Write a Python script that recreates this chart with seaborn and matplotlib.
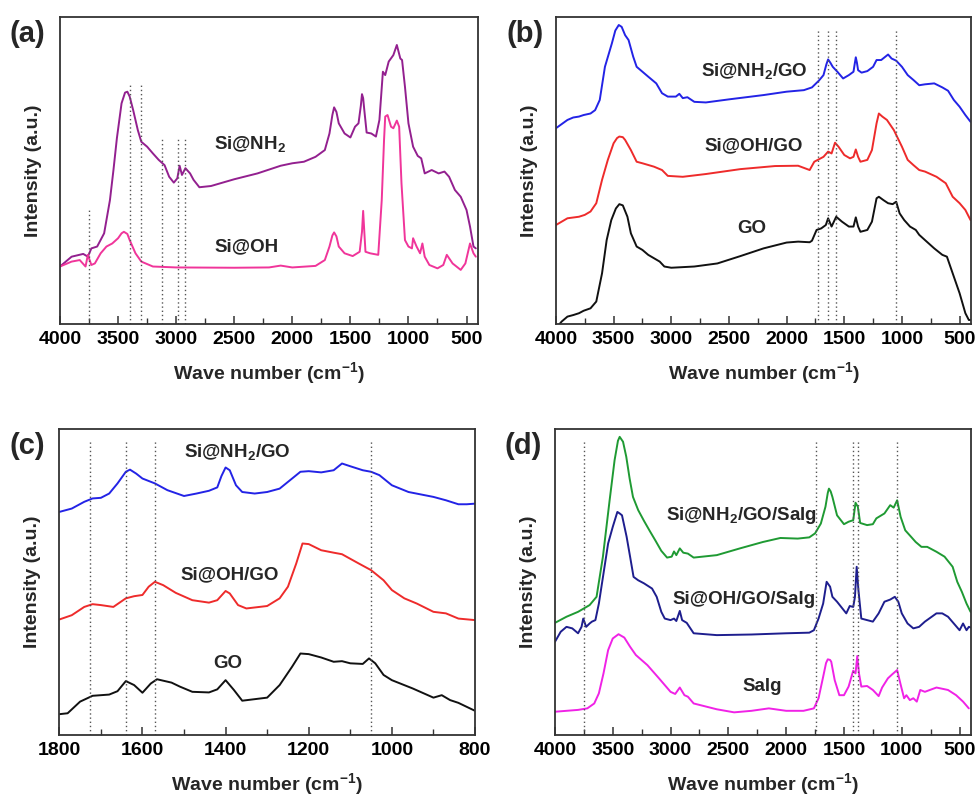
import pandas as pd
import matplotlib
matplotlib.use("Agg")
import matplotlib.pyplot as plt
import seaborn as sns
from matplotlib.ticker import MultipleLocator

# ---- panel (a) ----
A_NH2_WN = [4000, 3900, 3800, 3760, 3730, 3680, 3620, 3570, 3540, 3510, 3470, 3440, 3420, 3400,
            3370, 3330, 3300, 3250, 3200, 3150, 3100, 3060, 3020, 2990, 2970, 2950, 2920, 2880,
            2850, 2800, 2700, 2500, 2300, 2100, 2000, 1900, 1800, 1720, 1680, 1655, 1640, 1620,
            1600, 1550, 1500, 1460, 1430, 1410, 1400, 1390, 1380, 1360, 1320, 1280, 1250, 1220,
            1200, 1170, 1130, 1100, 1070, 1055, 1030, 1000, 960, 920, 890, 860, 800, 740, 690,
            650, 600, 550, 500, 470, 440, 420]
A_NH2_I = [18.7, 21.9, 22.8, 21.9, 24.6, 25.2, 29.5, 40.3, 50.0, 60.5, 71.8, 75.3, 75.6, 74.0,
           69.6, 63.1, 59.3, 57.7, 55.5, 53.4, 51.7, 47.9, 46.0, 47.4, 51.5, 48.5, 50.7, 49.0,
           46.9, 44.5, 44.9, 47.1, 49.0, 51.5, 52.3, 52.8, 54.4, 56.6, 62.0, 68.0, 70.5, 69.0,
           65.3, 62.0, 60.7, 64.2, 65.3, 71.0, 74.8, 73.5, 69.6, 62.3, 62.0, 61.0, 66.4, 82.1,
           81.0, 85.4, 87.5, 90.8, 86.4, 85.9, 77.2, 65.3, 57.7, 54.7, 53.9, 49.0, 50.1, 49.0,
           49.6, 47.9, 43.6, 41.4, 37.1, 31.7, 25.2, 24.6]

A_OH_WN = [4000, 3900, 3830, 3780, 3760, 3730, 3700, 3650, 3600, 3550, 3500, 3470, 3450, 3420,
           3400, 3350, 3300, 3200, 3000, 2500, 2200, 2100, 2000, 1800, 1720, 1680, 1655, 1640,
           1620, 1600, 1550, 1480, 1420, 1400, 1390, 1380, 1370, 1330, 1260, 1230, 1210, 1200,
           1180, 1150, 1130, 1100, 1080, 1060, 1030, 1000, 970, 960, 930, 900, 880, 860, 820,
           750, 700, 670, 620, 550, 510, 470, 440, 420]
A_OH_I = [18.7, 20.3, 20.8, 18.7, 22.5, 19.2, 19.7, 23.0, 25.2, 26.2, 27.9, 29.5, 30.0, 29.3,
          27.3, 23.0, 20.3, 18.7, 18.4, 18.3, 18.4, 19.0, 18.4, 18.9, 20.8, 25.2, 28.8, 29.8,
          28.5, 25.2, 23.0, 22.1, 23.5, 30.0, 36.8, 30.0, 23.5, 23.0, 22.5, 40.3, 60.0, 67.5,
          68.0, 64.2, 63.7, 66.2, 64.2, 45.8, 27.3, 25.2, 24.6, 27.9, 25.2, 23.0, 26.2, 21.9,
          19.2, 18.1, 19.2, 22.5, 19.7, 17.6, 19.7, 26.2, 23.0, 21.9]

A_MARK_WN = [3750, 3400, 3300, 3120, 2980, 2925]
A_MARK_TOP = [37.5, 78.0, 78.0, 60.4, 61.0, 61.0]

# ---- panel (b) ----
B_NH2_WN = [4000, 3900, 3850, 3800, 3760, 3700, 3660, 3620, 3575, 3515, 3485, 3455, 3430, 3400,
            3370, 3330, 3300, 3250, 3200, 3130, 3080, 3030, 2960, 2930, 2900, 2860, 2800, 2700,
            2500, 2200, 2000, 1850, 1780, 1720, 1680, 1655, 1640, 1620, 1600, 1560, 1510, 1460,
            1420, 1410, 1400, 1390, 1380, 1350, 1300, 1250, 1220, 1180, 1150, 1120, 1090, 1050,
            1000, 950, 900, 850, 800, 720, 650, 600, 550, 500, 450, 405]
B_NH2_I = [63.7, 66.4, 67.2, 67.5, 68.0, 68.5, 69.6, 72.9, 83.7, 91.3, 95.5, 97.3, 96.7, 94.0,
           92.4, 87.0, 83.7, 82.1, 80.5, 78.3, 75.1, 74.0, 74.0, 74.9, 73.5, 73.8, 72.3, 72.1,
           73.1, 74.5, 75.6, 76.1, 77.0, 79.2, 81.0, 84.5, 86.1, 85.0, 83.7, 82.1, 79.9, 81.0,
           82.1, 84.5, 86.8, 85.0, 82.6, 81.8, 82.3, 83.7, 85.9, 85.9, 86.8, 87.7, 86.4, 85.7,
           83.7, 81.0, 79.4, 77.7, 78.0, 78.3, 77.0, 75.9, 72.9, 70.7, 68.0, 65.8]

B_OH_WN = [4000, 3900, 3800, 3750, 3700, 3650, 3600, 3550, 3500, 3470, 3450, 3420, 3400, 3350,
           3300, 3250, 3150, 3080, 3030, 2900, 2700, 2400, 2100, 1900, 1800, 1760, 1720, 1680,
           1640, 1610, 1580, 1550, 1500, 1450, 1420, 1400, 1380, 1360, 1300, 1260, 1220, 1200,
           1170, 1130, 1070, 1000, 950, 900, 850, 800, 700, 620, 560, 500, 450, 405]
B_OH_I = [32.2, 34.4, 34.9, 35.5, 36.6, 39.3, 46.9, 53.4, 58.8, 60.5, 61.0, 60.8, 59.9, 56.6,
          52.8, 52.3, 51.2, 50.1, 48.2, 47.9, 48.8, 50.4, 51.4, 51.5, 50.1, 52.8, 53.6, 54.4,
          56.1, 55.5, 59.0, 57.7, 55.0, 53.9, 54.4, 56.8, 54.4, 52.8, 53.4, 56.6, 65.3, 68.5,
          67.5, 66.4, 63.1, 57.7, 53.4, 51.7, 50.1, 49.6, 47.9, 45.8, 41.4, 39.3, 37.1, 33.8]

B_GO_WN = [3990, 3950, 3900, 3850, 3800, 3760, 3700, 3650, 3600, 3560, 3520, 3480, 3450, 3420,
           3380, 3350, 3300, 3250, 3200, 3150, 3100, 3060, 3000, 2800, 2600, 2400, 2200, 2000,
           1900, 1800, 1780, 1740, 1700, 1660, 1640, 1610, 1570, 1520, 1460, 1420, 1400, 1380,
           1360, 1300, 1260, 1220, 1200, 1160, 1120, 1080, 1050, 1020, 980, 930, 880, 850, 800,
           720, 650, 610, 550, 500, 450, 420, 405]
B_GO_I = [-1.0, 0.8, 2.4, 2.9, 3.5, 4.3, 5.1, 7.3, 16.5, 27.3, 33.8, 37.6, 39.0, 38.6,
          34.9, 29.5, 25.2, 24.1, 22.5, 21.4, 20.3, 18.7, 18.3, 18.7, 19.7, 22.1, 24.6, 26.5,
          26.8, 26.6, 27.1, 30.6, 31.1, 32.2, 34.4, 31.7, 34.9, 33.3, 31.7, 31.7, 34.7, 31.7,
          30.0, 30.6, 33.3, 40.9, 41.4, 40.3, 39.3, 39.0, 39.8, 36.0, 33.8, 31.7, 30.6, 29.0,
          27.3, 24.6, 22.5, 21.9, 15.4, 10.0, 3.5, 1.3, 1.3]

B_MARK_WN = [1725, 1640, 1570, 1055]
B_MARK_TOP = [96.0, 96.0, 96.0, 96.0]

# ---- panel (c) ----
C_NH2_WN = [1800, 1770, 1740, 1720, 1700, 1680, 1660, 1640, 1630, 1615, 1600, 1570, 1540, 1500,
            1470, 1440, 1420, 1410, 1400, 1390, 1375, 1360, 1330, 1300, 1270, 1240, 1220, 1200,
            1170, 1140, 1120, 1100, 1070, 1050, 1030, 1000, 960, 900, 870, 840, 820, 800]
C_NH2_I = [72.8, 73.9, 76.1, 77.2, 77.4, 78.8, 82.1, 85.9, 86.6, 85.3, 83.7, 82.1, 79.9, 78.0,
           78.8, 79.7, 80.8, 84.5, 87.3, 86.4, 81.5, 79.3, 78.8, 79.3, 80.4, 83.7, 85.9, 86.1,
           85.7, 86.4, 88.6, 87.7, 86.4, 85.9, 84.8, 81.5, 79.3, 77.7, 76.6, 75.3, 75.3, 75.5]

C_OH_WN = [1800, 1770, 1740, 1720, 1700, 1670, 1640, 1620, 1600, 1585, 1570, 1550, 1520, 1480,
           1440, 1420, 1400, 1390, 1370, 1350, 1300, 1270, 1250, 1230, 1215, 1200, 1170, 1140,
           1120, 1080, 1050, 1020, 1000, 970, 940, 900, 870, 840, 800]
C_OH_I = [37.7, 39.1, 41.8, 42.7, 42.4, 41.8, 44.6, 45.3, 45.7, 48.4, 50.0, 48.9, 46.4, 44.0,
          43.2, 44.0, 47.0, 46.2, 42.4, 41.3, 42.1, 44.6, 48.4, 56.0, 62.5, 62.3, 60.3, 59.5,
          59.0, 56.0, 53.8, 50.5, 47.3, 44.6, 42.9, 40.2, 39.7, 38.0, 37.5]

C_GO_WN = [1800, 1780, 1750, 1720, 1680, 1660, 1640, 1620, 1600, 1580, 1565, 1530, 1510, 1480,
           1440, 1420, 1400, 1380, 1360, 1300, 1270, 1240, 1220, 1200, 1170, 1140, 1120, 1100,
           1070, 1055, 1040, 1020, 1000, 950, 900, 880, 860, 840, 820, 800]
C_GO_I = [6.8, 7.1, 10.9, 12.8, 13.2, 14.3, 17.6, 16.3, 13.8, 16.8, 18.2, 17.1, 15.8, 14.1,
          13.9, 14.9, 17.9, 14.7, 11.2, 12.2, 16.3, 22.3, 26.6, 26.4, 25.3, 23.9, 24.1, 23.4,
          23.2, 25.0, 23.4, 19.6, 17.9, 15.2, 12.2, 13.0, 11.4, 10.5, 9.2, 7.9]

C_MARK_WN = [1725, 1640, 1570, 1051]
C_MARK_TOP = [96.0, 96.0, 96.0, 96.0]

# ---- panel (d) ----
D_NH2_WN = [4000, 3900, 3800, 3750, 3700, 3640, 3585, 3527, 3484, 3455, 3440, 3411, 3383, 3354,
            3325, 3280, 3230, 3180, 3130, 3080, 3030, 2990, 2970, 2950, 2920, 2890, 2850, 2800,
            2600, 2400, 2200, 2050, 1900, 1800, 1750, 1700, 1660, 1640, 1630, 1615, 1600, 1560,
            1500, 1460, 1420, 1400, 1380, 1360, 1300, 1250, 1220, 1150, 1100, 1070, 1040, 1010,
            970, 920, 880, 830, 780, 700, 630, 560, 520, 480, 440, 405]
D_NH2_I = [36.6, 38.6, 40.2, 41.3, 42.4, 45.1, 58.2, 76.6, 89.7, 96.0, 97.3, 95.7, 90.8, 83.7,
           77.7, 73.4, 69.9, 66.6, 63.4, 60.1, 57.9, 58.2, 59.9, 58.7, 60.9, 59.5, 59.2, 57.9,
           58.7, 60.9, 63.0, 64.3, 64.1, 64.5, 65.8, 69.0, 74.5, 79.0, 80.4, 79.5, 77.7, 71.7,
           68.8, 69.6, 70.1, 75.8, 74.5, 69.2, 68.5, 68.8, 70.7, 72.3, 75.0, 74.2, 76.6, 71.2,
           66.8, 64.7, 63.0, 61.4, 61.4, 59.8, 58.2, 54.9, 50.0, 46.7, 42.9, 40.2]

D_OH_WN = [4000, 3950, 3900, 3850, 3800, 3770, 3755, 3730, 3700, 3680, 3650, 3620, 3580, 3540,
           3500, 3460, 3440, 3420, 3380, 3350, 3320, 3280, 3230, 3160, 3120, 3080, 3050, 3000,
           2970, 2950, 2920, 2900, 2860, 2800, 2600, 2300, 2000, 1800, 1760, 1720, 1680, 1650,
           1620, 1600, 1560, 1520, 1480, 1450, 1420, 1405, 1390, 1375, 1350, 1300, 1250, 1200,
           1150, 1100, 1060, 1030, 1000, 950, 900, 850, 800, 700, 650, 600, 550, 500, 470, 440,
           420, 405]
D_OH_I = [30.4, 33.7, 35.3, 34.8, 33.2, 35.3, 38.0, 35.3, 36.4, 37.0, 37.5, 42.9, 52.7, 62.5,
          67.9, 72.8, 72.3, 71.7, 64.7, 58.2, 51.6, 50.5, 49.5, 47.8, 45.1, 40.2, 38.0, 37.5,
          38.0, 37.2, 40.5, 37.5, 36.6, 33.2, 32.6, 32.8, 33.2, 33.4, 34.2, 38.0, 42.9, 50.0,
          48.4, 45.1, 43.5, 41.6, 39.7, 42.1, 41.8, 45.1, 54.9, 47.3, 38.0, 37.5, 37.0, 39.7,
          43.5, 44.2, 45.1, 43.5, 39.7, 36.4, 34.8, 35.3, 37.0, 39.7, 39.7, 38.6, 36.4, 34.2,
          36.4, 34.2, 35.3, 35.1]

D_SALG_WN = [4000, 3800, 3720, 3660, 3620, 3580, 3540, 3500, 3450, 3400, 3350, 3300, 3200, 3100,
             3000, 2960, 2920, 2880, 2850, 2800, 2600, 2450, 2300, 2150, 2000, 1850, 1760, 1720,
             1680, 1655, 1640, 1620, 1610, 1580, 1540, 1500, 1460, 1420, 1400, 1385, 1370, 1350,
             1300, 1250, 1200, 1170, 1120, 1080, 1040, 1010, 980, 960, 930, 900, 870, 840, 800,
             700, 600, 530, 470, 420]
D_SALG_I = [7.6, 8.2, 8.7, 10.3, 13.6, 20.1, 27.7, 31.5, 32.9, 31.8, 28.8, 26.1, 22.8, 18.5,
            14.1, 13.4, 15.5, 13.0, 12.5, 10.3, 8.4, 7.4, 7.9, 8.7, 7.9, 7.9, 8.7, 12.0,
            19.0, 23.5, 24.7, 24.5, 23.9, 17.9, 13.0, 13.0, 15.8, 21.0, 20.1, 25.8, 20.1, 15.8,
            16.0, 14.7, 12.7, 15.5, 18.5, 19.9, 21.2, 16.5, 12.0, 13.0, 11.4, 12.0, 10.9, 14.7,
            14.1, 15.5, 14.7, 13.0, 10.9, 8.7]

D_MARK_WN = [3746, 1738, 1421, 1380, 1040]
D_MARK_TOP = [96.0, 96.0, 96.0, 96.0, 96.0]

BOLD = "Liberation Sans"

sns.set_style("ticks")
plt.rcParams["font.family"] = [BOLD, "DejaVu Sans"]
plt.rcParams["font.weight"] = "bold"
plt.rcParams["mathtext.fontset"] = "custom"
plt.rcParams["mathtext.rm"] = "Liberation Sans:bold"
plt.rcParams["mathtext.bf"] = "Liberation Sans:bold"
plt.rcParams["mathtext.it"] = "Liberation Sans:bold"


def draw_curve(ax, wn, inten, color):
    df = pd.DataFrame({"wn": wn, "inten": inten})
    sns.lineplot(data=df, x="wn", y="inten", ax=ax, color=color, lw=1.4,
                 estimator=None, sort=False)


def style_axes(ax, xmax, xmin, major, minor, marks, mark_tops, panel):
    ax.set_xlim(xmax, xmin)
    ax.set_ylim(0, 100)
    ax.xaxis.set_major_locator(MultipleLocator(major))
    ax.xaxis.set_minor_locator(MultipleLocator(minor))
    ax.tick_params(axis="x", which="major", direction="in", length=6, width=1.1,
                   labelsize=14, pad=5, colors="#333333", labelcolor="black")
    ax.tick_params(axis="x", which="minor", direction="in", length=4, width=1.0,
                   colors="#333333")
    ax.set_yticks([])
    for lab in ax.get_xticklabels():
        lab.set_fontweight("bold")
    for sp in ax.spines.values():
        sp.set_visible(True)
        sp.set_color("#333333")
        sp.set_linewidth(1.3)
    ax.vlines(marks, 0, mark_tops, colors="#555555", linestyles=(0, (1, 2)), lw=1.0)
    ax.set_xlabel("Wave number (cm$^{-1}$)", fontsize=14, fontweight="bold", labelpad=9)
    ax.set_ylabel("Intensity (a.u.)", fontsize=14, fontweight="bold", labelpad=13)
    ax.text(-0.12, 0.99, panel, transform=ax.transAxes, fontsize=21,
            fontweight="bold", ha="left", va="top")


fig = plt.figure(figsize=(9.77, 7.96), dpi=100)
ax_a = fig.add_axes([0.0614, 0.593, 0.428, 0.386])
ax_b = fig.add_axes([0.569, 0.593, 0.425, 0.386])
ax_c = fig.add_axes([0.0607, 0.0766, 0.4255, 0.385])
ax_d = fig.add_axes([0.568, 0.0766, 0.426, 0.385])

# (a)
draw_curve(ax_a, A_NH2_WN, A_NH2_I, "#93208F")
draw_curve(ax_a, A_OH_WN, A_OH_I, "#F0359A")
style_axes(ax_a, 4000, 400, 500, 250, A_MARK_WN, A_MARK_TOP, "(a)")
ax_a.text(2363, 58.6, "Si@NH$_2$", fontsize=13.5, fontweight="bold", ha="center", va="center")
ax_a.text(2398, 25.2, "Si@OH", fontsize=13.5, fontweight="bold", ha="center", va="center")

# (b)
draw_curve(ax_b, B_NH2_WN, B_NH2_I, "#2323E6")
draw_curve(ax_b, B_OH_WN, B_OH_I, "#EE2B2B")
draw_curve(ax_b, B_GO_WN, B_GO_I, "#111111")
style_axes(ax_b, 4000, 400, 500, 250, B_MARK_WN, B_MARK_TOP, "(b)")
ax_b.text(2280, 82.3, "Si@NH$_2$/GO", fontsize=13.5, fontweight="bold", ha="center", va="center")
ax_b.text(2289, 58.0, "Si@OH/GO", fontsize=13.5, fontweight="bold", ha="center", va="center")
ax_b.text(2304, 31.1, "GO", fontsize=13.5, fontweight="bold", ha="center", va="center")

# (c)
draw_curve(ax_c, C_NH2_WN, C_NH2_I, "#2323E6")
draw_curve(ax_c, C_OH_WN, C_OH_I, "#EE2B2B")
draw_curve(ax_c, C_GO_WN, C_GO_I, "#111111")
style_axes(ax_c, 1800, 800, 200, 100, C_MARK_WN, C_MARK_TOP, "(c)")
ax_c.text(1373, 92.4, "Si@NH$_2$/GO", fontsize=13.5, fontweight="bold", ha="center", va="center")
ax_c.text(1389, 52.2, "Si@OH/GO", fontsize=13.5, fontweight="bold", ha="center", va="center")
ax_c.text(1395, 23.4, "GO", fontsize=13.5, fontweight="bold", ha="center", va="center")

# (d)
draw_curve(ax_d, D_NH2_WN, D_NH2_I, "#1F9A33")
draw_curve(ax_d, D_OH_WN, D_OH_I, "#1E1E8E")
draw_curve(ax_d, D_SALG_WN, D_SALG_I, "#F022E6")
style_axes(ax_d, 4000, 400, 500, 250, D_MARK_WN, D_MARK_TOP, "(d)")
ax_d.text(2387, 71.7, "Si@NH$_2$/GO/Salg", fontsize=13.5, fontweight="bold", ha="center", va="center")
ax_d.text(2364, 44.2, "Si@OH/GO/Salg", fontsize=13.5, fontweight="bold", ha="center", va="center")
ax_d.text(2205, 15.8, "Salg", fontsize=13.5, fontweight="bold", ha="center", va="center")

fig.savefig("out.png", dpi=100)
